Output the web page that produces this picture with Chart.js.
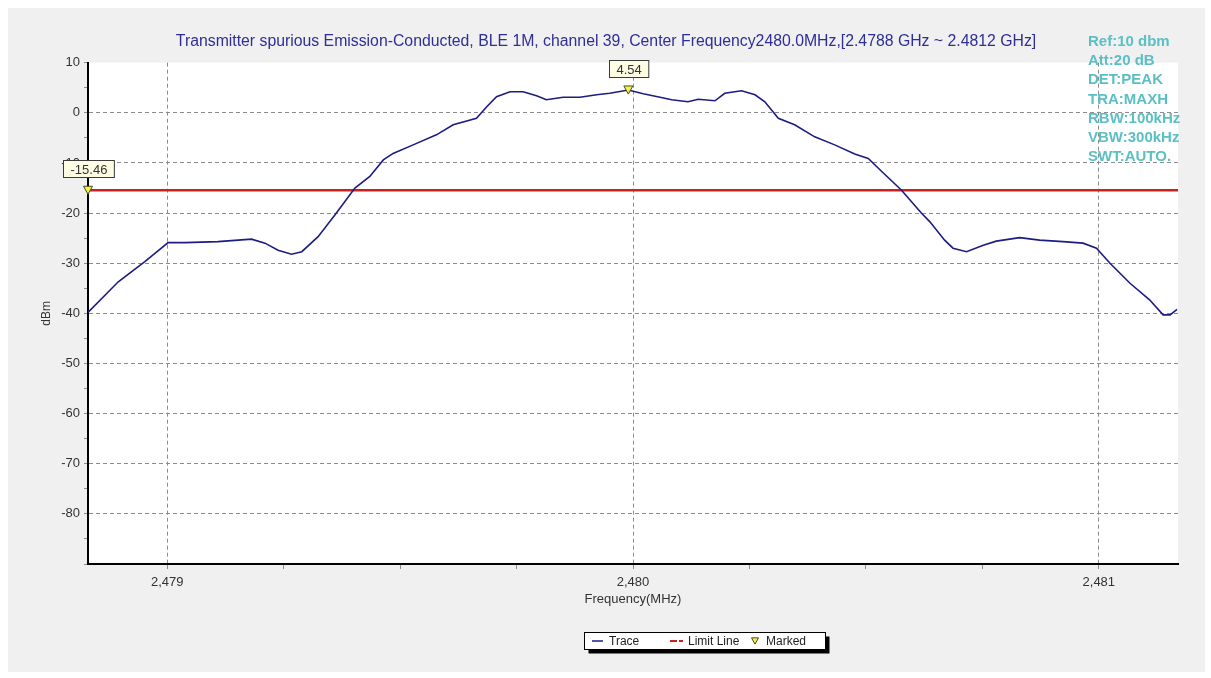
<!DOCTYPE html>
<html>
<head>
<meta charset="utf-8">
<script src="https://cdn.jsdelivr.net/npm/chart.js@4/dist/chart.umd.min.js"></script>
<style>
  html, body { margin: 0; padding: 0; background: #ffffff; }
  #wrap { width: 1211px; height: 678px; }
</style>
</head>
<body>
<div id="wrap"><canvas id="chartSpurious" width="1211" height="678"></canvas></div>
<script>

const freqMHz = [2478.830, 2478.895, 2478.952, 2479.002, 2479.038, 2479.109, 2479.181, 2479.210, 2479.238, 2479.267,
    2479.289, 2479.324, 2479.360, 2479.403, 2479.435, 2479.464, 2479.485, 2479.528, 2479.578, 2479.614,
    2479.664, 2479.686, 2479.707, 2479.736, 2479.764, 2479.793, 2479.814, 2479.850, 2479.886, 2479.922,
    2479.950, 2479.990, 2480.022, 2480.058, 2480.083, 2480.118, 2480.140, 2480.176, 2480.197, 2480.233,
    2480.262, 2480.283, 2480.312, 2480.347, 2480.390, 2480.433, 2480.476, 2480.505, 2480.534, 2480.576,
    2480.619, 2480.637, 2480.669, 2480.687, 2480.716, 2480.752, 2480.780, 2480.830, 2480.873, 2480.923,
    2480.966, 2480.995, 2481.024, 2481.067, 2481.109, 2481.138, 2481.153, 2481.168];

const traceDbm = [-39.8, -33.7, -29.7, -25.9, -25.9, -25.7, -25.2, -26.0, -27.4, -28.2,
    -27.7, -24.7, -20.4, -15.0, -12.7, -9.4, -8.1, -6.4, -4.4, -2.4,
    -1.1, 1.2, 3.2, 4.2, 4.2, 3.4, 2.6, 3.1, 3.1, 3.6,
    3.9, 4.54, 3.8, 3.1, 2.6, 2.2, 2.7, 2.4, 3.9, 4.4,
    3.6, 2.2, -1.1, -2.4, -4.8, -6.4, -8.2, -9.1, -11.7, -15.4,
    -20.0, -21.7, -25.4, -27.0, -27.7, -26.4, -25.6, -24.9, -25.4, -25.7,
    -26.0, -27.0, -30.0, -34.0, -37.3, -40.3, -40.3, -39.2];

const limitDbm = -15.46;
const markerFreq = [2478.83, 2479.99];
const markerDbm = [-15.46, 4.54];
const markerText = ['-15.46', '4.54'];

const xMin = 2478.83;
const xMax = 2481.17;
const xTickValues = [2479, 2479.25, 2479.5, 2479.75, 2480, 2480.25, 2480.5, 2480.75, 2481];
const xLabelValues = [2479, 2480, 2481];
const yMin = -90;
const yMax = 10;

const infoLines = ['Ref:10 dbm', 'Att:20 dB', 'DET:PEAK', 'TRA:MAXH', 'RBW:100kHz', 'VBW:300kHz', 'SWT:AUTO.'];

const chartTitle = 'Transmitter spurious Emission-Conducted, BLE 1M, channel 39, Center Frequency2480.0MHz,[2.4788 GHz ~ 2.4812 GHz]';

const FONT = "'Liberation Sans', Arial, sans-serif";
const traceColor = '#1c1c82';
const limitColor = '#cc1f1f';
const gridColor = '#8c8c8c';

function formatFreq(v) {
    const whole = Math.round(v);
    return Math.floor(whole / 1000) + ',' + String(whole % 1000).padStart(3, '0');
}

function drawTriangle(ctx, x, y, r) {
    ctx.beginPath();
    ctx.moveTo(x - r, y - r * 0.9);
    ctx.lineTo(x + r, y - r * 0.9);
    ctx.lineTo(x, y + r * 0.9);
    ctx.closePath();
    ctx.fillStyle = '#f2f24a';
    ctx.fill();
    ctx.strokeStyle = '#4a4a20';
    ctx.lineWidth = 1;
    ctx.stroke();
}

const backgroundPlugin = {
    id: 'panelBackground',
    beforeDraw(chart) {
        const {ctx, chartArea} = chart;
        ctx.save();
        ctx.fillStyle = '#ffffff';
        ctx.fillRect(0, 0, chart.width, chart.height);
        ctx.fillStyle = '#f0f0f0';
        ctx.fillRect(8, 8, chart.width - 14, chart.height - 14);
        ctx.fillStyle = '#ffffff';
        ctx.fillRect(chartArea.left, chartArea.top, chartArea.right - chartArea.left, chartArea.bottom - chartArea.top);
        ctx.restore();
    }
};

const markerPlugin = {
    id: 'markerLabels',
    afterDatasetsDraw(chart) {
        const ctx = chart.ctx;
        const meta = chart.getDatasetMeta(2);
        ctx.save();
        meta.data.forEach((pt, i) => {
            drawTriangle(ctx, pt.x, pt.y, 4.5);
            ctx.font = '13px ' + FONT;
            const w = ctx.measureText(markerText[i]).width + 14;
            const h = 17;
            const bx = Math.round(pt.x - w / 2) + 0.5;
            const by = Math.round(pt.y - 13 - h) + 0.5;
            ctx.fillStyle = '#fdfde4';
            ctx.fillRect(bx, by, w, h);
            ctx.strokeStyle = '#3a3a3a';
            ctx.lineWidth = 1;
            ctx.strokeRect(bx, by, w, h);
            ctx.fillStyle = '#333333';
            ctx.textAlign = 'center';
            ctx.textBaseline = 'middle';
            ctx.fillText(markerText[i], bx + w / 2, by + h / 2 + 1);
        });
        ctx.restore();
    }
};

const overlayPlugin = {
    id: 'overlayText',
    afterDraw(chart) {
        const ctx = chart.ctx;
        ctx.save();
        ctx.font = 'bold 15px ' + FONT;
        ctx.fillStyle = '#5cbfc4';
        ctx.textAlign = 'left';
        ctx.textBaseline = 'alphabetic';
        infoLines.forEach((line, i) => {
            ctx.fillText(line, 1088, 46 + i * 19.2);
        });

        // legend box with drop shadow
        const lx = 584.5, ly = 632.5, lw = 241, lh = 17;
        ctx.fillStyle = '#000000';
        ctx.fillRect(lx + 4, ly + 4, lw, lh);
        ctx.fillStyle = '#ffffff';
        ctx.fillRect(lx, ly, lw, lh);
        ctx.strokeStyle = '#000000';
        ctx.lineWidth = 1;
        ctx.strokeRect(lx, ly, lw, lh);

        const midY = ly + lh / 2;
        ctx.font = '12px ' + FONT;
        ctx.fillStyle = '#222222';
        ctx.textBaseline = 'middle';

        ctx.strokeStyle = traceColor;
        ctx.lineWidth = 1.5;
        ctx.beginPath();
        ctx.moveTo(592, midY);
        ctx.lineTo(603, midY);
        ctx.stroke();
        ctx.fillText(chart.data.datasets[0].label, 609, midY + 0.5);

        ctx.strokeStyle = limitColor;
        ctx.lineWidth = 2;
        ctx.setLineDash([7, 2]);
        ctx.beginPath();
        ctx.moveTo(670, midY);
        ctx.lineTo(683, midY);
        ctx.stroke();
        ctx.setLineDash([]);
        ctx.fillText(chart.data.datasets[1].label, 688, midY + 0.5);

        drawTriangle(ctx, 755, midY, 3.5);
        ctx.fillStyle = '#222222';
        ctx.fillText(chart.data.datasets[2].label, 766, midY + 0.5);
        ctx.restore();
    }
};

const chartSpurious = document.getElementById('chartSpurious');

const chart = new Chart(chartSpurious, {
    type: 'line',
    data: {
        datasets: [
            {
                label: 'Trace',
                data: freqMHz.map((f, i) => ({x: f, y: traceDbm[i]})),
                borderColor: traceColor,
                borderWidth: 1.6,
                pointRadius: 0,
                tension: 0
            },
            {
                label: 'Limit Line',
                data: [{x: xMin, y: limitDbm}, {x: xMax, y: limitDbm}],
                borderColor: limitColor,
                borderWidth: 2.5,
                pointRadius: 0
            },
            {
                label: 'Marked',
                data: markerFreq.map((f, i) => ({x: f, y: markerDbm[i]})),
                showLine: false,
                pointRadius: 0
            }
        ]
    },
    options: {
        responsive: false,
        animation: false,
        layout: {
            padding: {left: 34, right: 33, top: 0, bottom: 68}
        },
        plugins: {
            legend: {display: false},
            tooltip: {enabled: false},
            title: {
                display: true,
                text: chartTitle,
                color: '#2e2e96',
                font: {family: FONT, size: 15.8, weight: 'normal'},
                padding: {top: 32.5, bottom: 11.2}
            }
        },
        scales: {
            x: {
                type: 'linear',
                min: xMin,
                max: xMax,
                afterBuildTicks: scale => {
                    scale.ticks = xTickValues.map(v => ({value: v}));
                },
                afterFit: scale => {
                    scale.height = 46;
                },
                ticks: {
                    autoSkip: false,
                    maxRotation: 0,
                    padding: 6,
                    color: '#333333',
                    font: {family: FONT, size: 13},
                    callback: v => xLabelValues.includes(v) ? formatFreq(v) : ''
                },
                grid: {
                    color: ctx => (ctx.tick && xLabelValues.includes(ctx.tick.value)) ? gridColor : 'rgba(0,0,0,0)',
                    tickColor: gridColor,
                    tickLength: 5,
                    lineWidth: 1
                },
                border: {display: true, color: '#000000', width: 2, dash: [4, 3]},
                title: {
                    display: true,
                    text: 'Frequency(MHz)',
                    color: '#333333',
                    font: {family: FONT, size: 13},
                    padding: {top: 0, bottom: 3}
                }
            },
            y: {
                min: yMin,
                max: yMax,
                afterFit: scale => {
                    scale.width = 54;
                },
                ticks: {
                    stepSize: 5,
                    autoSkip: false,
                    padding: 4,
                    color: '#333333',
                    font: {family: FONT, size: 13},
                    callback: v => (v % 10 === 0 && v > yMin) ? String(v) : ''
                },
                grid: {
                    color: ctx => (ctx.tick && ctx.tick.value % 10 === 0 && ctx.tick.value > yMin && ctx.tick.value < yMax) ? gridColor : 'rgba(0,0,0,0)',
                    tickColor: gridColor,
                    tickLength: 4,
                    lineWidth: 1
                },
                border: {display: true, color: '#000000', width: 2, dash: [4, 3]},
                title: {
                    display: true,
                    text: 'dBm',
                    color: '#333333',
                    font: {family: FONT, size: 12},
                    padding: {top: 5, bottom: 0}
                }
            }
        }
    },
    plugins: [backgroundPlugin, markerPlugin, overlayPlugin]
});

</script>
</body>
</html>
